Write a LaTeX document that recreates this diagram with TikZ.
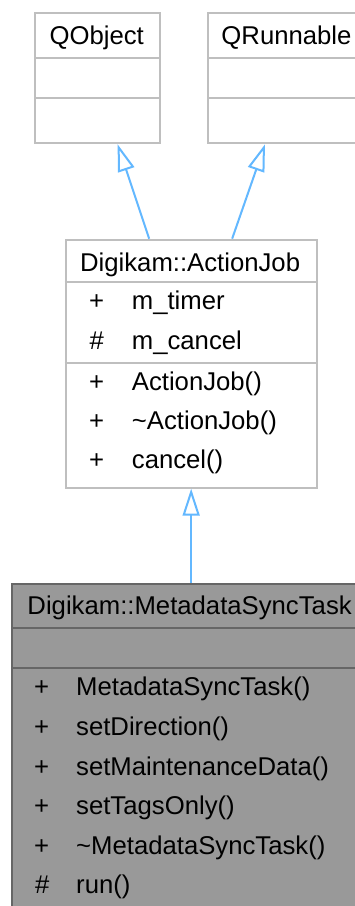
\documentclass[tikz,border=0pt]{standalone}
\usepackage{fontspec}
\setmainfont{Liberation Sans}
\usetikzlibrary{arrows.meta}
\definecolor{boxline}{HTML}{BFBFBF}
\definecolor{mstfill}{HTML}{999999}
\definecolor{mstline}{HTML}{666666}
\definecolor{arrowblue}{HTML}{63B8FF}
\tikzset{
  umlbox/.style={draw=boxline, line width=2pt, fill=white, inner sep=0pt, anchor=north west},
  mstbox/.style={draw=mstline, line width=2pt, fill=mstfill, inner sep=0pt, anchor=north west},
  sepline/.style={draw=boxline, line width=2pt},
  msep/.style={draw=mstline, line width=2pt},
  txt/.style={inner sep=0pt, font=\fontsize{25.7pt}{30pt}\selectfont, text=black},
  inherit/.style={draw=arrowblue, line width=2pt, -{Triangle[length=27pt, width=17pt, fill=white]}}
}
\begin{document}
\begin{tikzpicture}[x=1pt, y=-1pt]
\clip (0,0) rectangle (355,906);
\fill[white] (0,0) rectangle (355,906);

% boxes
\node[umlbox, minimum width=125.3pt, minimum height=130.6pt] (qobject) at (34,11.7) {};
\node[umlbox, minimum width=159pt, minimum height=130.6pt] (qrunnable) at (207,11.7) {};
\node[umlbox, minimum width=250.9pt, minimum height=248pt] (aj) at (64.7,238.7) {};
\node[mstbox, minimum width=356.7pt, minimum height=340pt] (mst) at (11.3,582.7) {};

% separators
\draw[sepline] ([yshift=-46.6pt]qobject.north west) -- ([yshift=-46.6pt]qobject.north east);
\draw[sepline] ([yshift=-86.6pt]qobject.north west) -- ([yshift=-86.6pt]qobject.north east);
\draw[sepline] ([yshift=-46.6pt]qrunnable.north west) -- ([yshift=-46.6pt]qrunnable.north east);
\draw[sepline] ([yshift=-86.6pt]qrunnable.north west) -- ([yshift=-86.6pt]qrunnable.north east);
\draw[sepline] ([yshift=-43.3pt]aj.north west) -- ([yshift=-43.3pt]aj.north east);
\draw[sepline] ([yshift=-124pt]aj.north west) -- ([yshift=-124pt]aj.north east);
\draw[msep] ([yshift=-45pt]mst.north west) -- ([yshift=-45pt]mst.north east);
\draw[msep] ([yshift=-85.6pt]mst.north west) -- ([yshift=-85.6pt]mst.north east);

% headers
\node[txt, anchor=base] (qobjectname) at (96.7,44.5) {QObject};
\node[txt, anchor=base] (qrunnablename) at (286.5,44.5) {QRunnable};
\node[txt, anchor=base] (ajname) at (190.1,271) {Digikam::ActionJob};
\node[txt, anchor=base] (mstname) at (189.6,614.3) {Digikam::MetadataSyncTask};

% ActionJob members
\node[txt, anchor=base] (ajv1) at (96.7,309) {+};
\node[txt, anchor=base west] (ajm1) at (131.7,309) {m\_timer};
\node[txt, anchor=base] (ajv2) at (96.7,349) {\#};
\node[txt, anchor=base west] (ajm2) at (131.7,349) {m\_cancel};
\node[txt, anchor=base] (ajv3) at (96.7,390) {+};
\node[txt, anchor=base west] (ajm3) at (131.7,390) {ActionJob()};
\node[txt, anchor=base] (ajv4) at (96.7,429.5) {+};
\node[txt, anchor=base west] (ajm4) at (131.7,429.5) {\textasciitilde ActionJob()};
\node[txt, anchor=base] (ajv5) at (96.7,468) {+};
\node[txt, anchor=base west] (ajm5) at (131.7,468) {cancel()};

% MetadataSyncTask members
\node[txt, anchor=base] (mv1) at (41.7,695) {+};
\node[txt, anchor=base west] (mm1) at (76,695) {MetadataSyncTask()};
\node[txt, anchor=base] (mv2) at (41.7,735) {+};
\node[txt, anchor=base west] (mm2) at (76,735) {setDirection()};
\node[txt, anchor=base] (mv3) at (41.7,775) {+};
\node[txt, anchor=base west] (mm3) at (76,775) {setMaintenanceData()};
\node[txt, anchor=base] (mv4) at (41.7,814) {+};
\node[txt, anchor=base west] (mm4) at (76,814) {setTagsOnly()};
\node[txt, anchor=base] (mv5) at (41.7,854) {+};
\node[txt, anchor=base west] (mm5) at (76,854) {\textasciitilde MetadataSyncTask()};
\node[txt, anchor=base] (mv6) at (42.3,893) {\#};
\node[txt, anchor=base west] (mm6) at (76,893) {run()};

% inheritance arrows
\draw[inherit] ([xshift=-42pt]aj.north) -- ([xshift=20pt]qobject.south);
\draw[inherit] ([xshift=41pt]aj.north) -- ([xshift=-22.5pt]qrunnable.south);
\draw[inherit] (mst.north -| aj.south) -- (aj.south);
\end{tikzpicture}
\end{document}
